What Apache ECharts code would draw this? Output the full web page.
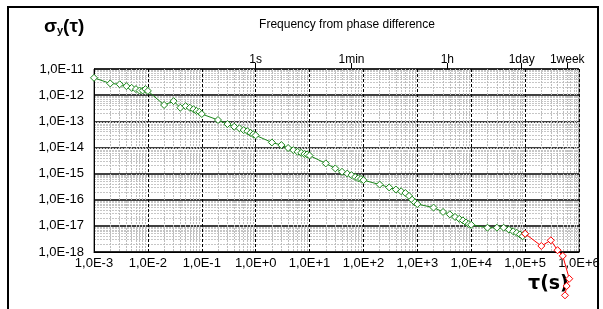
<!DOCTYPE html>
<html>
<head>
<meta charset="utf-8">
<script src="https://cdn.jsdelivr.net/npm/echarts@6/dist/echarts.min.js"></script>
<style>
  html, body { margin: 0; padding: 0; background: #fff; }
  #chart { width: 603px; height: 309px; }
</style>
</head>
<body>
<div id="chart"></div>
<script>
// tau (s) and sigma_y(tau)
const tauGreen = [
  1e-3, 2e-3, 3e-3, 4e-3, 5e-3, 6e-3, 7e-3, 8e-3, 9e-3,
  1e-2, 2e-2, 3e-2, 4e-2, 5e-2, 6e-2, 7e-2, 8e-2, 9e-2,
  1e-1, 0.2, 0.3, 0.4, 0.5, 0.6, 0.7, 0.8, 0.9,
  1, 2, 3, 4, 5, 6, 7, 8, 9,
  10, 20, 30, 40, 50, 60, 70, 80, 90,
  100, 200, 300, 400, 500, 600, 700, 800, 900,
  1000, 2000, 3000, 4000, 5000, 6000, 7000, 8000, 9000,
  1e4, 2e4, 3e4, 4e4, 5e4, 6e4, 7e4, 8e4, 9e4,
  1e5
]
const sigmaGreen = [
  4.6e-12, 2.8e-12, 2.6e-12, 2.2e-12, 1.9e-12, 1.7e-12, 1.5e-12, 1.5e-12, 1.7e-12,
  1.45e-12, 4.2e-13, 5.9e-13, 3.3e-13, 3.8e-13, 3.3e-13, 2.9e-13, 2.5e-13, 2.3e-13,
  1.9e-13, 1.12e-13, 7.8e-14, 6.2e-14, 5.4e-14, 4.6e-14, 4.2e-14, 3.6e-14, 3.2e-14,
  2.9e-14, 1.55e-14, 1.23e-14, 9.5e-15, 7.9e-15, 6.8e-15, 6.2e-15, 5.6e-15, 5.4e-15,
  4.9e-15, 2.45e-15, 1.58e-15, 1.17e-15, 1.0e-15, 8.7e-16, 7.4e-16, 6.6e-16, 6.2e-16,
  5.6e-16, 3.8e-16, 2.95e-16, 2.45e-16, 2.1e-16, 1.8e-16, 1.4e-16, 1.0e-16, 7.9e-17,
  6.8e-17, 5.0e-17, 3.4e-17, 2.75e-17, 2.2e-17, 1.86e-17, 1.62e-17, 1.35e-17, 1.17e-17,
  1.1e-17, 8.5e-18, 8.5e-18, 8.5e-18, 7.2e-18, 6.2e-18, 5.4e-18, 4.7e-18, 4.0e-18,
  5.0e-18
]
const tauRed = [1e5, 2e5, 3e5, 4e5, 5e5, 6.6e5, 5.9e5, 5.5e5]
const sigmaRed = [5.0e-18, 1.7e-18, 2.8e-18, 1.17e-18, 7.1e-19, 9.5e-20, 5.0e-20, 2.2e-20]

// top axis time marks
const timeMarks = [1, 60, 3600, 86400, 604800]
const timeNames = ['1s', '1min', '1h', '1day', '1week']

const expLabel = (v) => {
  const e = Math.round(Math.log10(v))
  return '1,0E' + (e >= 0 ? '+' : '') + e
}

const chart = echarts.init(document.getElementById('chart'))

const pairs = (xs, ys) => xs.map((x, i) => [x, ys[i]])

const option = {
  animation: false,
  backgroundColor: '#fff',
  textStyle: { fontFamily: 'Liberation Sans, Arial, sans-serif' },
  title: {
    text: 'Frequency from phase difference',
    left: 342,
    top: 14,
    textAlign: 'center',
    textStyle: { fontSize: 12, fontWeight: 'normal', color: '#000' }
  },
  grid: {
    left: 94, right: 24, top: 69, bottom: 57,
    show: true,
    borderColor: '#444',
    borderWidth: 1
  },
  xAxis: [
    {
      type: 'log',
      logBase: 10,
      min: 1e-3,
      max: 1e6,
      axisLine: { show: true, lineStyle: { color: '#000' } },
      axisTick: { show: false },
      axisLabel: { formatter: expLabel, color: '#000', fontSize: 13, margin: 5 },
      splitLine: { show: true, lineStyle: { color: '#000', type: [3, 2], width: 1 } },
      minorTick: { show: false, splitNumber: 9 },
      minorSplitLine: { show: true, lineStyle: { color: '#bdbdbd', type: [2, 1], width: 1 } }
    },
    {
      type: 'log',
      logBase: 10,
      min: 1e-3,
      max: 1e6,
      position: 'top',
      axisLine: { show: false },
      axisTick: {
        show: true, length: 6, inside: false,
        customValues: timeMarks,
        lineStyle: { color: '#000' }
      },
      axisLabel: {
        customValues: timeMarks,
        formatter: (v) => {
          const i = timeMarks.findIndex((t) => Math.abs(Math.log10(t) - Math.log10(v)) < 1e-6)
          return i >= 0 ? timeNames[i] : ''
        },
        color: '#000', fontSize: 12, margin: 3
      },
      splitLine: { show: false }
    }
  ],
  yAxis: {
    type: 'log',
    logBase: 10,
    min: 1e-18,
    max: 1e-11,
    axisLine: { show: true, lineStyle: { color: '#000' } },
    axisTick: { show: false },
    axisLabel: { formatter: expLabel, color: '#000', fontSize: 13, margin: 10 },
    splitLine: { show: true, lineStyle: { color: '#000', width: 1.5 } },
    minorTick: { show: false, splitNumber: 9 },
    minorSplitLine: { show: true, lineStyle: { color: '#c6c6c6', type: [2, 1], width: 1 } }
  },
  graphic: [
    {
      type: 'rect',
      shape: { x: 8, y: 7, width: 590, height: 330 },
      style: { fill: 'none', stroke: '#000', lineWidth: 2 },
      silent: true
    },
    {
      type: 'text',
      left: 44,
      top: 17,
      style: {
        text: '{a|σ}{b|y}{a|(τ)}',
        rich: {
          a: { fontSize: 19, fontWeight: 'bold', fontFamily: 'Liberation Sans', fill: '#000' },
          b: { fontSize: 11, fontWeight: 'bold', fontFamily: 'Liberation Sans', fill: '#000', padding: [9, 0, 0, 0] }
        }
      }
    },
    {
      type: 'text',
      left: 528,
      top: 275,
      z: 0,
      style: {
        text: 'τ(s)',
        fontSize: 19,
        fontWeight: 'bold',
        fontFamily: 'DejaVu Sans',
        fill: '#000'
      }
    }
  ],
  series: [
    {
      type: 'line',
      data: pairs(tauGreen, sigmaGreen),
      symbol: 'diamond',
      symbolSize: 7,
      clip: false,
      z: 5,
      lineStyle: { color: '#1a861a', width: 1 },
      itemStyle: { color: '#ffffff', borderColor: '#1a861a', borderWidth: 1 }
    },
    {
      type: 'line',
      data: pairs(tauRed, sigmaRed),
      symbol: 'diamond',
      symbolSize: 7,
      clip: false,
      z: 6,
      lineStyle: { color: '#ff0000', width: 1 },
      itemStyle: { color: '#ffffff', borderColor: '#ff0000', borderWidth: 1 }
    }
  ]
}

chart.setOption(option)
</script>
</body>
</html>
